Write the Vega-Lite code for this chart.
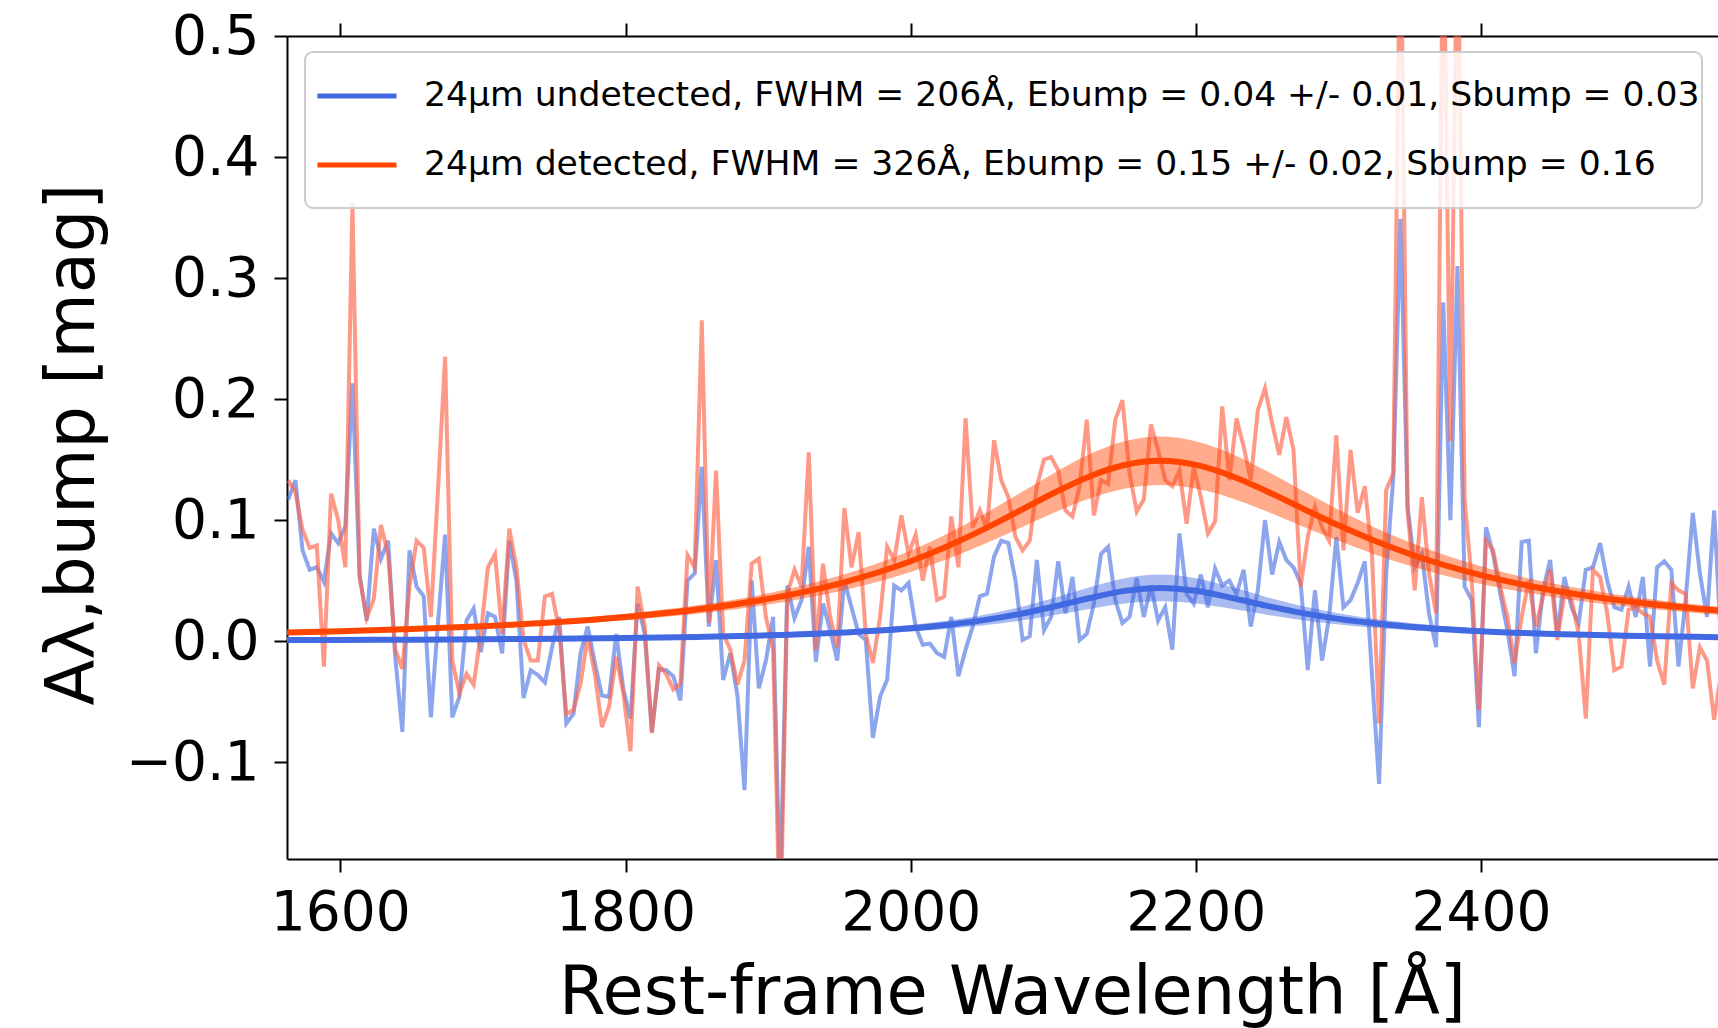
{
  "$schema": "https://vega.github.io/schema/vega-lite/v6.json",
  "width": 1431,
  "height": 823,
  "autosize": {"type": "none"},
  "padding": {"left": 287, "top": 36, "right": 0, "bottom": 169},
  "background": "white",
  "config": {
    "view": {"stroke": null},
    "font": "DejaVu Sans",
    "axis": {"domainColor": "#000", "domainWidth": 2, "tickColor": "#000", "tickWidth": 2, "tickSize": 13, "labelColor": "#000", "labelFontSize": 55, "labelFont": "DejaVu Sans", "titleFont": "DejaVu Sans", "titleFontSize": 67, "titleFontWeight": "normal", "titleColor": "#000", "grid": false},
    "axisX": {"labelPadding": 14},
    "axisY": {"labelPadding": 15},
    "legend": {"orient": "none", "legendX": 18, "legendY": 16, "padding": 2, "fillColor": "rgba(255,255,255,0.8)", "strokeColor": "#cccccc", "strokeWidth": 2, "cornerRadius": 8, "labelFontSize": 34.6, "labelFont": "DejaVu Sans", "labelColor": "#000", "labelLimit": 3000, "symbolType": "stroke", "symbolSize": 6241, "symbolStrokeWidth": 5, "symbolOffset": 8, "labelOffset": 25, "rowPadding": 10, "titleOrient": "bottom", "titleFontSize": 14, "titlePadding": 10, "titleColor": "#ffffff"}
  },
  "datasets": {
    "spec": [
      {"wl":1563.5,"und":0.117,"det":0.133},{"wl":1568.5,"und":0.133,"det":0.123},{"wl":1573.5,"und":0.075,"det":0.092},{"wl":1578.5,"und":0.059,"det":0.077},{"wl":1583.5,"und":0.061,"det":0.079},{"wl":1588.5,"und":0.049,"det":-0.021},{"wl":1593.5,"und":0.089,"det":0.122},{"wl":1598.5,"und":0.081,"det":0.100},{"wl":1603.5,"und":0.095,"det":0.061},{"wl":1608.5,"und":0.213,"det":0.362},
      {"wl":1613.5,"und":0.055,"det":0.053},{"wl":1618.5,"und":0.017,"det":0.019},{"wl":1623.5,"und":0.093,"det":0.035},{"wl":1628.5,"und":0.068,"det":0.096},{"wl":1633.5,"und":0.083,"det":0.072},{"wl":1638.5,"und":-0.013,"det":-0.007},{"wl":1643.5,"und":-0.075,"det":-0.023},{"wl":1648.5,"und":0.075,"det":0.045},{"wl":1653.5,"und":0.045,"det":0.083},{"wl":1658.5,"und":0.037,"det":0.077},
      {"wl":1663.5,"und":-0.063,"det":0.020},{"wl":1668.5,"und":0.015,"det":0.125},{"wl":1673.5,"und":0.088,"det":0.235},{"wl":1678.5,"und":-0.063,"det":-0.016},{"wl":1683.5,"und":-0.046,"det":-0.043},{"wl":1688.5,"und":0.017,"det":-0.027},{"wl":1693.5,"und":0.027,"det":-0.036},{"wl":1698.5,"und":-0.009,"det":0.006},{"wl":1703.5,"und":0.023,"det":0.061},{"wl":1708.5,"und":0.020,"det":0.072},
      {"wl":1713.5,"und":-0.010,"det":0.006},{"wl":1718.5,"und":0.083,"det":0.093},{"wl":1723.5,"und":0.050,"det":0.061},{"wl":1728.5,"und":-0.047,"det":0.001},{"wl":1733.5,"und":-0.024,"det":-0.016},{"wl":1738.5,"und":-0.028,"det":-0.016},{"wl":1743.5,"und":-0.034,"det":0.037},{"wl":1748.5,"und":-0.005,"det":0.039},{"wl":1753.5,"und":0.020,"det":0.009},{"wl":1758.5,"und":-0.068,"det":-0.060},
      {"wl":1763.5,"und":-0.060,"det":-0.057},{"wl":1768.5,"und":-0.010,"det":-0.035},{"wl":1773.5,"und":0.012,"det":0.004},{"wl":1778.5,"und":-0.018,"det":-0.027},{"wl":1783.5,"und":-0.045,"det":-0.071},{"wl":1788.5,"und":-0.046,"det":-0.054},{"wl":1793.5,"und":0.006,"det":-0.013},{"wl":1798.5,"und":-0.040,"det":-0.043},{"wl":1803.5,"und":-0.064,"det":-0.091},{"wl":1808.5,"und":0.031,"det":0.045},
      {"wl":1813.5,"und":0.006,"det":0.012},{"wl":1818.5,"und":-0.075,"det":-0.076},{"wl":1823.5,"und":-0.023,"det":-0.020},{"wl":1828.5,"und":-0.024,"det":-0.027},{"wl":1833.5,"und":-0.029,"det":-0.040},{"wl":1838.5,"und":-0.049,"det":-0.035},{"wl":1843.5,"und":0.050,"det":0.071},{"wl":1848.5,"und":0.056,"det":0.061},{"wl":1853.5,"und":0.144,"det":0.265},{"wl":1858.5,"und":0.012,"det":0.015},
      {"wl":1863.5,"und":0.067,"det":0.141},{"wl":1868.5,"und":-0.032,"det":0.006},{"wl":1873.5,"und":-0.010,"det":-0.007},{"wl":1878.5,"und":-0.045,"det":-0.036},{"wl":1883.5,"und":-0.123,"det":-0.016},{"wl":1888.5,"und":0.050,"det":0.064},{"wl":1893.5,"und":-0.039,"det":0.068},{"wl":1898.5,"und":-0.016,"det":0.020},{"wl":1903.5,"und":0.020,"det":-0.007},{"wl":1908.5,"und":-0.21,"det":-0.25},
      {"wl":1913.5,"und":0.046,"det":0.039},{"wl":1918.5,"und":0.019,"det":0.059},{"wl":1923.5,"und":0.034,"det":0.045},{"wl":1928.5,"und":0.078,"det":0.156},{"wl":1933.5,"und":-0.017,"det":-0.007},{"wl":1938.5,"und":0.031,"det":0.064},{"wl":1943.5,"und":0.009,"det":0.020},{"wl":1948.5,"und":-0.016,"det":-0.005},{"wl":1953.5,"und":0.050,"det":0.110},{"wl":1958.5,"und":0.028,"det":0.061},
      {"wl":1963.5,"und":0.006,"det":0.090},{"wl":1968.5,"und":0.001,"det":0.006},{"wl":1973.5,"und":-0.080,"det":-0.018},{"wl":1978.5,"und":-0.046,"det":0.020},{"wl":1983.5,"und":-0.032,"det":0.078},{"wl":1988.5,"und":0.046,"det":0.067},{"wl":1993.5,"und":0.042,"det":0.104},{"wl":1998.5,"und":0.048,"det":0.072},{"wl":2003.5,"und":0.012,"det":0.088},{"wl":2008.5,"und":-0.003,"det":0.050},
      {"wl":2013.5,"und":-0.002,"det":0.078},{"wl":2018.5,"und":-0.010,"det":0.034},{"wl":2023.5,"und":-0.013,"det":0.037},{"wl":2028.5,"und":0.020,"det":0.103},{"wl":2033.5,"und":-0.029,"det":0.061},{"wl":2038.5,"und":-0.007,"det":0.184},{"wl":2043.5,"und":0.012,"det":0.094},{"wl":2048.5,"und":0.037,"det":0.108},{"wl":2053.5,"und":0.039,"det":0.092},{"wl":2058.5,"und":0.070,"det":0.166},
      {"wl":2063.5,"und":0.083,"det":0.133},{"wl":2068.5,"und":0.081,"det":0.119},{"wl":2073.5,"und":0.050,"det":0.086},{"wl":2078.5,"und":0.001,"det":0.075},{"wl":2083.5,"und":0.004,"det":0.083},{"wl":2088.5,"und":0.067,"det":0.128},{"wl":2093.5,"und":0.009,"det":0.150},{"wl":2098.5,"und":0.020,"det":0.152},{"wl":2103.5,"und":0.066,"det":0.141},{"wl":2108.5,"und":0.023,"det":0.108},
      {"wl":2113.5,"und":0.053,"det":0.103},{"wl":2118.5,"und":0.001,"det":0.128},{"wl":2123.5,"und":0.006,"det":0.183},{"wl":2128.5,"und":0.031,"det":0.104},{"wl":2133.5,"und":0.072,"det":0.133},{"wl":2138.5,"und":0.078,"det":0.130},{"wl":2143.5,"und":0.034,"det":0.183},{"wl":2148.5,"und":0.015,"det":0.199},{"wl":2153.5,"und":0.020,"det":0.139},{"wl":2158.5,"und":0.052,"det":0.107},
      {"wl":2163.5,"und":0.020,"det":0.117},{"wl":2168.5,"und":0.046,"det":0.179},{"wl":2173.5,"und":0.017,"det":0.158},{"wl":2178.5,"und":0.028,"det":0.133},{"wl":2183.5,"und":-0.007,"det":0.128},{"wl":2188.5,"und":0.089,"det":0.141},{"wl":2193.5,"und":0.039,"det":0.097},{"wl":2198.5,"und":0.031,"det":0.144},{"wl":2203.5,"und":0.055,"det":0.119},{"wl":2208.5,"und":0.028,"det":0.089},
      {"wl":2213.5,"und":0.060,"det":0.099},{"wl":2218.5,"und":0.046,"det":0.194},{"wl":2223.5,"und":0.050,"det":0.133},{"wl":2228.5,"und":0.039,"det":0.184},{"wl":2233.5,"und":0.059,"det":0.161},{"wl":2238.5,"und":0.012,"det":0.133},{"wl":2243.5,"und":0.042,"det":0.191},{"wl":2248.5,"und":0.100,"det":0.209},{"wl":2253.5,"und":0.055,"det":0.180},{"wl":2258.5,"und":0.082,"det":0.154},
      {"wl":2263.5,"und":0.067,"det":0.185},{"wl":2268.5,"und":0.061,"det":0.158},{"wl":2273.5,"und":0.048,"det":0.045},{"wl":2278.5,"und":-0.024,"det":0.086},{"wl":2283.5,"und":0.042,"det":0.111},{"wl":2288.5,"und":-0.016,"det":0.094},{"wl":2293.5,"und":0.020,"det":0.083},{"wl":2298.5,"und":0.086,"det":0.170},{"wl":2303.5,"und":0.028,"det":0.075},{"wl":2308.5,"und":0.034,"det":0.158},
      {"wl":2313.5,"und":0.048,"det":0.106},{"wl":2318.5,"und":0.066,"det":0.128},{"wl":2323.5,"und":-0.027,"det":0.072},{"wl":2328.5,"und":-0.118,"det":-0.068},{"wl":2333.5,"und":0.056,"det":0.125},{"wl":2338.5,"und":0.136,"det":0.139},{"wl":2343.5,"und":0.349,"det":0.62},{"wl":2348.5,"und":0.111,"det":0.108},{"wl":2353.5,"und":0.061,"det":0.042},{"wl":2358.5,"und":0.072,"det":0.119},
      {"wl":2363.5,"und":0.023,"det":0.056},{"wl":2368.5,"und":-0.005,"det":0.023},{"wl":2373.5,"und":0.28,"det":0.62},{"wl":2378.5,"und":0.10,"det":0.165},{"wl":2383.5,"und":0.31,"det":0.62},{"wl":2388.5,"und":0.045,"det":0.117},{"wl":2393.5,"und":0.034,"det":0.050},{"wl":2398.5,"und":-0.071,"det":-0.057},{"wl":2403.5,"und":0.094,"det":0.083},{"wl":2408.5,"und":0.072,"det":0.075},
      {"wl":2413.5,"und":0.039,"det":0.045},{"wl":2418.5,"und":0.009,"det":0.020},{"wl":2423.5,"und":-0.029,"det":-0.018},{"wl":2428.5,"und":0.082,"det":0.020},{"wl":2433.5,"und":0.083,"det":0.050},{"wl":2438.5,"und":-0.010,"det":0.012},{"wl":2443.5,"und":0.042,"det":0.037},{"wl":2448.5,"und":0.067,"det":0.059},{"wl":2453.5,"und":0.006,"det":0.001},{"wl":2458.5,"und":0.053,"det":0.039},
      {"wl":2463.5,"und":0.028,"det":0.034},{"wl":2468.5,"und":0.015,"det":0.006},{"wl":2473.5,"und":0.059,"det":-0.064},{"wl":2478.5,"und":0.061,"det":0.059},{"wl":2483.5,"und":0.081,"det":0.053},{"wl":2488.5,"und":0.050,"det":0.023},{"wl":2493.5,"und":0.028,"det":-0.024},{"wl":2498.5,"und":0.026,"det":-0.021},{"wl":2503.5,"und":0.045,"det":0.026},{"wl":2508.5,"und":0.020,"det":0.028},
      {"wl":2513.5,"und":0.053,"det":0.023},{"wl":2518.5,"und":-0.021,"det":0.020},{"wl":2523.5,"und":0.061,"det":-0.016},{"wl":2528.5,"und":0.066,"det":-0.036},{"wl":2533.5,"und":0.059,"det":0.048},{"wl":2538.5,"und":-0.021,"det":0.042},{"wl":2543.5,"und":0.034,"det":0.039},{"wl":2548.5,"und":0.106,"det":-0.039},{"wl":2553.5,"und":0.056,"det":-0.005},{"wl":2558.5,"und":0.020,"det":-0.016},
      {"wl":2563.5,"und":0.108,"det":-0.065},{"wl":2568.5,"und":-0.005,"det":-0.025}
    ],
    "fit": [
      {"wl":1560,"und":0.00084,"und_lo":0.00063,"und_hi":0.00106,"det":0.0070,"det_lo":0.0060,"det_hi":0.0079},
      {"wl":1600,"und":0.00099,"und_lo":0.00074,"und_hi":0.00124,"det":0.0081,"det_lo":0.0070,"det_hi":0.0092},
      {"wl":1650,"und":0.00123,"und_lo":0.00092,"und_hi":0.00153,"det":0.0100,"det_lo":0.0086,"det_hi":0.0113},
      {"wl":1700,"und":0.00154,"und_lo":0.00115,"und_hi":0.00192,"det":0.0124,"det_lo":0.0107,"det_hi":0.0140},
      {"wl":1750,"und":0.00196,"und_lo":0.00147,"und_hi":0.00245,"det":0.0156,"det_lo":0.0135,"det_hi":0.0177},
      {"wl":1800,"und":0.00257,"und_lo":0.00192,"und_hi":0.00321,"det":0.0200,"det_lo":0.0173,"det_hi":0.0227},
      {"wl":1850,"und":0.00345,"und_lo":0.00258,"und_hi":0.00431,"det":0.0261,"det_lo":0.0226,"det_hi":0.0296},
      {"wl":1900,"und":0.00479,"und_lo":0.00359,"und_hi":0.00598,"det":0.0349,"det_lo":0.0302,"det_hi":0.0395},
      {"wl":1950,"und":0.00694,"und_lo":0.00521,"und_hi":0.00868,"det":0.0476,"det_lo":0.0412,"det_hi":0.0540},
      {"wl":2000,"und":0.01062,"und_lo":0.00796,"und_hi":0.01327,"det":0.0660,"det_lo":0.0572,"det_hi":0.0749},
      {"wl":2025,"und":0.01341,"und_lo":0.01006,"und_hi":0.01676,"det":0.0780,"det_lo":0.0675,"det_hi":0.0884},
      {"wl":2050,"und":0.01717,"und_lo":0.01288,"und_hi":0.02146,"det":0.0917,"det_lo":0.0794,"det_hi":0.1040},
      {"wl":2075,"und":0.02213,"und_lo":0.01660,"und_hi":0.02766,"det":0.1068,"det_lo":0.0925,"det_hi":0.1211},
      {"wl":2100,"und":0.02840,"und_lo":0.02130,"und_hi":0.03550,"det":0.1222,"det_lo":0.1058,"det_hi":0.1386},
      {"wl":2125,"und":0.03546,"und_lo":0.02660,"und_hi":0.04432,"det":0.1359,"det_lo":0.1177,"det_hi":0.1542},
      {"wl":2150,"und":0.04152,"und_lo":0.03114,"und_hi":0.05190,"det":0.1455,"det_lo":0.1260,"det_hi":0.1651},
      {"wl":2175,"und":0.04400,"und_lo":0.03300,"und_hi":0.05500,"det":0.1490,"det_lo":0.1290,"det_hi":0.1690},
      {"wl":2200,"und":0.04158,"und_lo":0.03118,"und_hi":0.05197,"det":0.1456,"det_lo":0.1261,"det_hi":0.1651},
      {"wl":2225,"und":0.03577,"und_lo":0.02683,"und_hi":0.04471,"det":0.1365,"det_lo":0.1181,"det_hi":0.1548},
      {"wl":2250,"und":0.02909,"und_lo":0.02182,"und_hi":0.03636,"det":0.1237,"det_lo":0.1071,"det_hi":0.1403},
      {"wl":2275,"und":0.02314,"und_lo":0.01735,"und_hi":0.02892,"det":0.1095,"det_lo":0.0948,"det_hi":0.1242},
      {"wl":2300,"und":0.01839,"und_lo":0.01379,"und_hi":0.02298,"det":0.0957,"det_lo":0.0829,"det_hi":0.1086},
      {"wl":2325,"und":0.01474,"und_lo":0.01105,"und_hi":0.01842,"det":0.0831,"det_lo":0.0719,"det_hi":0.0942},
      {"wl":2350,"und":0.01197,"und_lo":0.00898,"und_hi":0.01497,"det":0.0720,"det_lo":0.0624,"det_hi":0.0817},
      {"wl":2400,"und":0.00825,"und_lo":0.00619,"und_hi":0.01031,"det":0.0545,"det_lo":0.0472,"det_hi":0.0619},
      {"wl":2450,"und":0.00599,"und_lo":0.00449,"und_hi":0.00749,"det":0.0421,"det_lo":0.0365,"det_hi":0.0478},
      {"wl":2500,"und":0.00454,"und_lo":0.00340,"und_hi":0.00567,"det":0.0333,"det_lo":0.0288,"det_hi":0.0378},
      {"wl":2550,"und":0.00356,"und_lo":0.00267,"und_hi":0.00444,"det":0.0269,"det_lo":0.0233,"det_hi":0.0305},
      {"wl":2580,"und":0.00312,"und_lo":0.00234,"und_hi":0.00389,"det":0.0239,"det_lo":0.0207,"det_hi":0.0271}
    ]
  },
  "resolve": {"axis": {"x": "independent"}},
  "layer": [
    {
      "data": {"name": "spec"},
      "mark": {"type": "line", "color": "royalblue", "opacity": 0.6, "strokeWidth": 4, "clip": true},
      "encoding": {
        "x": {"field": "wl", "type": "quantitative", "scale": {"domain": [1562.6, 2566.2], "nice": false, "zero": false},
              "axis": {"values": [1600, 1800, 2000, 2200, 2400], "format": "d", "title": "Rest-frame Wavelength [Å]", "titleX": 725, "titleY": 154, "titleBaseline": "alphabetic", "titleAlign": "center", "titleAnchor": null}},
        "y": {"field": "und", "type": "quantitative", "scale": {"domain": [-0.18, 0.5], "nice": false, "zero": false},
              "axis": {"values": [-0.1, 0, 0.1, 0.2, 0.3, 0.4, 0.5], "format": ".1f", "title": "Aλ,bump [mag]", "titleX": -194, "titleY": 408, "titleAngle": 270, "titleBaseline": "alphabetic", "titleAlign": "center"}}
      }
    },
    {
      "data": {"name": "spec"},
      "mark": {"type": "line", "color": "tomato", "opacity": 0.65, "strokeWidth": 4, "clip": true},
      "encoding": {
        "x": {"field": "wl", "type": "quantitative", "axis": null},
        "y": {"field": "det", "type": "quantitative"}
      }
    },
    {
      "data": {"name": "fit"},
      "mark": {"type": "area", "color": "royalblue", "opacity": 0.45, "clip": true, "interpolate": "monotone"},
      "encoding": {
        "x": {"field": "wl", "type": "quantitative", "axis": null},
        "y": {"field": "und_lo", "type": "quantitative"},
        "y2": {"field": "und_hi"}
      }
    },
    {
      "data": {"name": "fit"},
      "mark": {"type": "area", "color": "orangered", "opacity": 0.45, "clip": true, "interpolate": "monotone"},
      "encoding": {
        "x": {"field": "wl", "type": "quantitative", "axis": null},
        "y": {"field": "det_lo", "type": "quantitative"},
        "y2": {"field": "det_hi"}
      }
    },
    {
      "data": {"name": "fit"},
      "mark": {"type": "line", "strokeWidth": 6, "clip": true, "interpolate": "monotone"},
      "encoding": {
        "x": {"field": "wl", "type": "quantitative", "axis": {"orient": "top", "values": [1600, 1800, 2000, 2200, 2400], "labels": false, "title": null}},
        "y": {"field": "und", "type": "quantitative"},
        "color": {"datum": "24μm undetected, FWHM = 206Å, Ebump = 0.04 +/- 0.01, Sbump = 0.03", "type": "nominal",
                  "scale": {"domain": ["24μm undetected, FWHM = 206Å, Ebump = 0.04 +/- 0.01, Sbump = 0.03", "24μm detected, FWHM = 326Å, Ebump = 0.15 +/- 0.02, Sbump = 0.16"], "range": ["royalblue", "orangered"]},
                  "legend": {"title": " "}}
      }
    },
    {
      "data": {"name": "fit"},
      "mark": {"type": "line", "strokeWidth": 6, "clip": true, "interpolate": "monotone"},
      "encoding": {
        "x": {"field": "wl", "type": "quantitative", "axis": null},
        "y": {"field": "det", "type": "quantitative"},
        "color": {"datum": "24μm detected, FWHM = 326Å, Ebump = 0.15 +/- 0.02, Sbump = 0.16", "type": "nominal"}
      }
    }
  ]
}
